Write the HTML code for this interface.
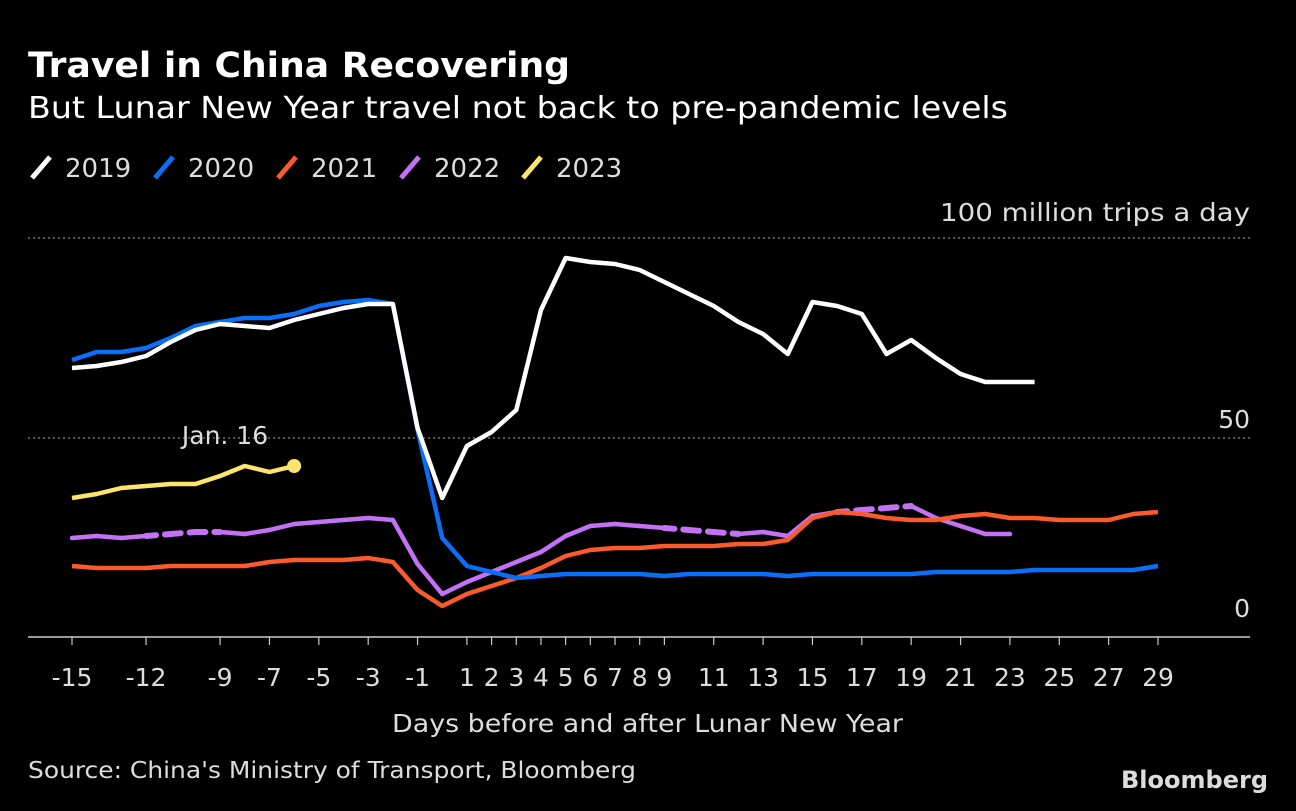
<!DOCTYPE html>
<html><head><meta charset="utf-8"><style>
body{margin:0;background:#000;width:1296px;height:806px;overflow:hidden;font-family:"Liberation Sans",sans-serif}
svg text{font-family:"DejaVu Sans","Liberation Sans",sans-serif}
</style></head><body>
<svg id="c" width="1296" height="806">
<text x="28" y="77" fill="#fff" font-size="35" font-weight="bold" textLength="542" lengthAdjust="spacingAndGlyphs">Travel in China Recovering</text>
<text x="28" y="118" fill="#fff" font-size="30" textLength="980" lengthAdjust="spacingAndGlyphs">But Lunar New Year travel not back to pre-pandemic levels</text>
<g id="legend"></g>
<g id="grid"></g><g id="lines"></g><g id="xt"></g>
<text x="392" y="732" fill="#ddd" font-size="25" textLength="511" lengthAdjust="spacingAndGlyphs">Days before and after Lunar New Year</text>
<text x="28" y="778" fill="#ddd" font-size="23" textLength="608" lengthAdjust="spacingAndGlyphs">Source: China's Ministry of Transport, Bloomberg</text>
<text x="1268" y="788" fill="#ddd" font-size="24" font-weight="bold" text-anchor="end" font-family="Liberation Sans">Bloomberg</text>
</svg>
<script>
const days=[];for(let d=-15;d<=29;d++)days.push(d);
const xTicks=[-15,-12,-9,-7,-5,-3,-1,1,2,3,4,5,6,7,8,9,11,13,15,17,19,21,23,25,27,29];
const yTicks=[0,50,100];
const s2019=[67.5,68,69,70.5,74,77,78.5,78,77.5,79.5,81,82.5,83.5,83.5,52.5,35,48,51.5,57,82,95,94,93.5,92,89,86,83,79,76,71,84,83,81,71,74.5,70,66,64,64,64];
const s2020=[69.5,71.5,71.5,72.5,75,78,79,80,80,81,83,84,84.5,83.5,52,25,18,16.5,15,15.5,16,16,16,16,15.5,16,16,16,16,15.5,16,16,16,16,16,16.5,16.5,16.5,16.5,17,17,17,17,17,18];
const s2021=[18,17.5,17.5,17.5,18,18,18,18,19,19.5,19.5,19.5,20,19,12,8,11,13,15,17.5,20.5,22,22.5,22.5,23,23,23,23.5,23.5,24.5,30,31.5,31,30,29.5,29.5,30.5,31,30,30,29.5,29.5,29.5,31,31.5];
const s2022=[25,25.5,25,25.5,26,26.5,26.5,26,27,28.5,29,29.5,30,29.5,18.5,11,14,16.5,19,21.5,25.5,28,28.5,28,27.5,27,26.5,26,26.5,25.5,30.5,31.5,32,32.5,33,30,28,26,26];
const s2023=[35,36,37.5,38,38.5,38.5,40.5,43,41.5,43];
const dash2022=[[-12,-9],[9,12],[16,19]];
const X=d=>72+(d+15)*24.682, Y=v=>638-v*4;
const NS="http://www.w3.org/2000/svg";
function el(t,a,p){const e=document.createElementNS(NS,t);for(const k in a)e.setAttribute(k,a[k]);document.getElementById(p).appendChild(e);return e;}
for(const v of yTicks){
 if(v>0){const g=el('line',{x1:28,x2:1250,y1:Y(v),y2:Y(v),stroke:'#888','stroke-dasharray':'2,3','stroke-width':1.2},'grid');
 
 }
 const a={x:1250,y:v==0?617:Y(v)-17+(v==50?7:0),fill:'#ddd','font-size':25,'text-anchor':'end'};
 if(v==100){a.textLength=310;a.lengthAdjust='spacingAndGlyphs';}
 const t=el('text',a,'grid');
 t.textContent=v==100?'100 million trips a day':v;
 
 
}
const ax=el('line',{x1:28,x2:1250,y1:637,y2:637,stroke:'#ccc','stroke-width':1.5},'grid');


for(const d of xTicks){
 const tk=el('line',{x1:X(d),x2:X(d),y1:637,y2:645,stroke:'#ccc','stroke-width':1.2},'xt');
 
 
 const t=el('text',{x:X(d),y:686,fill:'#ddd','font-size':25,'text-anchor':'middle'},'xt');
 t.textContent=d<0?'-'+(-d):d;
 
 
}
function draw(vals,color,name,dashes){
 const pts=vals.map((v,i)=>[X(days[i]),Y(v)]);
 if(!dashes){const p=el('polyline',{points:pts.map(p=>p.join(',')).join(' '),fill:'none',stroke:color,'stroke-width':4.5,'stroke-linejoin':'round'},'lines');
  
  return;}
 for(let i=0;i<pts.length-1;i++){
  const d=days[i];const dashed=dashes.some(r=>d>=r[0]&&d<r[1]);
  const a={x1:pts[i][0],y1:pts[i][1],x2:pts[i+1][0],y2:pts[i+1][1],stroke:color,'stroke-width':dashed?6:4.5,'stroke-linecap':'round'};
  if(dashed)a['stroke-dasharray']='10,9';
  const l=el('line',a,'lines');
  
  
 }
}
draw(s2022,'#c472f5','line-2022',dash2022);
draw(s2021,'#fb5a2b','line-2021');
draw(s2023,'#fbe56a','line-2023');
draw(s2020,'#0a6ef8','line-2020');
draw(s2019,'#ffffff','line-2019');
const last=s2023.length-1;
const dot=el('circle',{cx:X(days[last]),cy:Y(s2023[last]),r:7,fill:'#fbe56a'},'lines');


const an=el('text',{x:225,y:444,fill:'#ddd','font-size':25,'text-anchor':'middle'},'lines');
an.textContent='Jan. 16';


const leg=[['2019','#fff',28],['2020','#0a6ef8',151],['2021','#fb5a2b',274],['2022','#c472f5',397],['2023','#fbe56a',519]];
for(const [n,c,x] of leg){
 const l=el('line',{x1:x+4,y1:178,x2:x+22,y2:157,stroke:c,'stroke-width':5},'legend');
 
 
 const t=el('text',{x:x+37,y:177,fill:'#ddd','font-size':26},'legend');
 t.textContent=n;
 
 
}
</script>
</body></html>
